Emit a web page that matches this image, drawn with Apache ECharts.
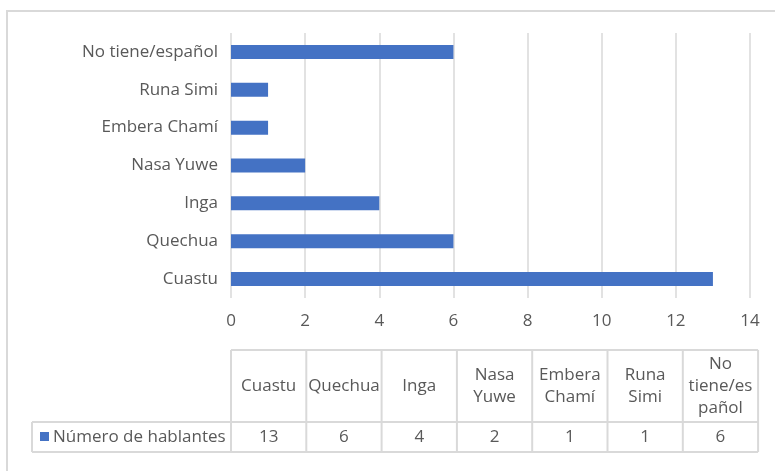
<!DOCTYPE html>
<html>
<head>
<meta charset="utf-8">
<script src="https://cdn.jsdelivr.net/npm/echarts@6/dist/echarts.min.js"></script>
<style>
  html, body { margin: 0; padding: 0; background: #fff; }
  #chart { width: 775px; height: 471px; }
</style>
</head>
<body>
<div id="chart"></div>
<script>
  // categories, bottom to top on the chart / left to right in the table
  var categories = ['Cuastu', 'Quechua', 'Inga', 'Nasa Yuwe', 'Embera Chamí', 'Runa Simi', 'No tiene/español']
  var headerLabels = ['Cuastu', 'Quechua', 'Inga', 'Nasa\nYuwe', 'Embera\nChamí', 'Runa\nSimi', 'No\ntiene/es\npañol']
  var hablantes = [13, 6, 4, 2, 1, 1, 6]
  var seriesName = 'Número de hablantes'
  var xTicks = [0, 14, 2] // min, max, interval

  var FONT = '"Open Sans", Lato, sans-serif'
  var FS = 17
  var TXT = '#595959'
  var LINE = '#d9d9d9'
  var BLUE = '#4472c4'

  var myChart = echarts.init(document.getElementById('chart'), null, { renderer: 'canvas' })

  // data table under the chart
  function buildTable() {
    var els = []
    var x0 = 231, colW = 75.3, top = 350, mid = 422, bottom = 452, legLeft = 32
    var n = headerLabels.length
    var right = x0 + colW * n
    var ln = function (x1, y1, x2, y2) {
      els.push({ type: 'line', shape: { x1: x1, y1: y1, x2: x2, y2: y2 }, style: { stroke: LINE, lineWidth: 2 }, silent: true })
    }
    ln(x0, top, right, top)
    ln(legLeft, mid, right, mid)
    ln(legLeft, bottom, right, bottom)
    ln(legLeft, mid, legLeft, bottom)
    for (var i = 0; i <= n; i++) {
      ln(x0 + colW * i, top, x0 + colW * i, bottom)
    }
    for (var j = 0; j < n; j++) {
      var cx = x0 + colW * (j + 0.5)
      els.push({ type: 'text', x: cx, y: (top + mid) / 2, silent: true,
        style: { text: headerLabels[j], font: FS + 'px ' + FONT, fill: TXT, align: 'center', verticalAlign: 'middle', lineHeight: 22 } })
      els.push({ type: 'text', x: cx, y: (mid + bottom) / 2, silent: true,
        style: { text: String(hablantes[j]), font: FS + 'px ' + FONT, fill: TXT, align: 'center', verticalAlign: 'middle' } })
    }
    // legend key in the table
    els.push({ type: 'rect', shape: { x: 40, y: 432, width: 9, height: 9 }, style: { fill: BLUE }, silent: true })
    els.push({ type: 'text', x: 53, y: (mid + bottom) / 2, silent: true,
      style: { text: seriesName, font: FS + 'px ' + FONT, fill: TXT, align: 'left', verticalAlign: 'middle' } })
    // outer chart border
    els.push({ type: 'polyline', shape: { points: [[7, 480], [7, 11], [780, 11]] }, style: { stroke: LINE, lineWidth: 2, fill: null }, silent: true })
    return els
  }

  var option = {
    animation: false,
    backgroundColor: '#fff',
    grid: { left: 231, right: 25, top: 33, bottom: 173, containLabel: false },
    xAxis: {
      type: 'value',
      min: xTicks[0],
      max: xTicks[1],
      interval: xTicks[2],
      axisLine: { show: false },
      axisTick: { show: false },
      axisLabel: { color: TXT, fontSize: FS, fontFamily: FONT, margin: 15 },
      splitLine: { show: true, lineStyle: { color: LINE, width: 1.5 } }
    },
    yAxis: {
      type: 'category',
      data: categories,
      axisLine: { show: false },
      axisTick: { show: false },
      axisLabel: { color: TXT, fontSize: FS, fontFamily: FONT, margin: 13 }
    },
    series: [
      {
        name: seriesName,
        type: 'bar',
        data: hablantes,
        barWidth: 14,
        itemStyle: { color: BLUE }
      }
    ],
    graphic: buildTable()
  }
  myChart.setOption(option)
</script>
</body>
</html>
